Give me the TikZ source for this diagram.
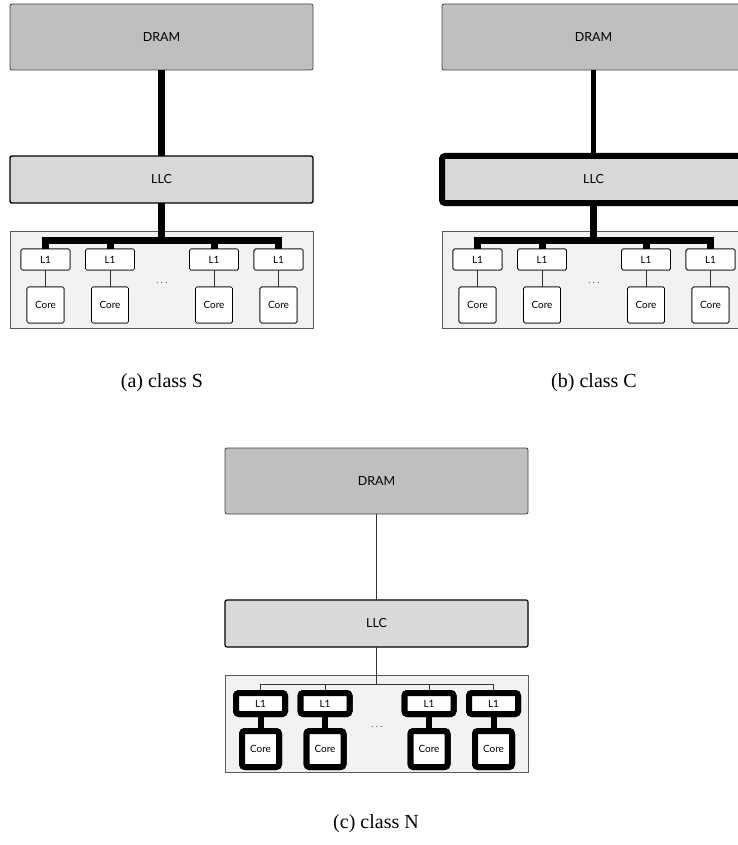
\documentclass[tikz,border=0pt]{standalone}
\usepackage{fontspec}
\setmainfont{Liberation Serif}
\newfontfamily\boxfont{Lato}
\newcommand\panelbody[1]{%
  \node[contbox] (#1cont) at (161.5,279.5) {};
  \node[drambox] (#1dram) at (161.5,37) {DRAM};
  \node[llcbox] (#1llc) at (161.5,179.5) {LLC};
  \coordinate (#1bus) at (161.5,240);
  \foreach \i/\x in {1/45.5,2/110,3/214,4/278.5} {
    \node[lonebox] (#1l\i) at (\x,259.5) {L1};
    \node[corebox] (#1c\i) at (\x,305) {Core};
    \draw[l1core] (#1l\i.south) -- (#1c\i.north);
  }
  \draw[linkA] (#1dram.south) -- (#1llc.north);
  \draw[linkB] (#1llc.south) -- (#1bus);
  \draw[busline] (#1l1.north) |- (#1l4.north |- #1bus) -- (#1l4.north);
  \draw[busline] (#1l2.north) -- (#1l2.north |- #1bus);
  \draw[busline] (#1l3.north) -- (#1l3.north |- #1bus);
  \foreach \i in {1,2,3,4} {
    \node[lonebox] at (#1l\i) {L1};
    \node[corebox] at (#1c\i) {Core};
  }
  \node[dotsnode] (#1dots) at (162,283) {.\hspace{2.5pt}.\hspace{2.5pt}.};
}
\begin{document}
\begin{tikzpicture}[x=1pt,y=-1pt,
  every node/.style={inner sep=0pt, outer sep=0pt},
  boxtext/.style={font=\boxfont\fontsize{12.5}{14}\selectfont},
  smalltext/.style={font=\boxfont\fontsize{10}{11}\selectfont},
  drambox/.style={boxtext, draw=black!75, fill=black!25, rounded corners=2pt,
    line width=0.8pt, minimum width=303pt, minimum height=66pt},
  llcbase/.style={boxtext, draw=black, fill=black!15, rounded corners=2pt,
    minimum width=303pt, minimum height=47pt},
  contbox/.style={draw=black!65, fill=black!5, line width=0.8pt,
    minimum width=303pt, minimum height=97pt},
  lonebase/.style={smalltext, draw=black, fill=white,
    minimum width=49pt, minimum height=21pt},
  corebase/.style={smalltext, draw=black, fill=white,
    minimum width=37pt, minimum height=36pt},
  thinlink/.style={draw=black!80, line width=0.8pt},
  dotsnode/.style={font=\boxfont\fontsize{9}{10}\selectfont, text=black!70},
  caption/.style={font=\fontsize{20}{22}\selectfont}
]
\path[use as bounding box] (0,0) rectangle (738,845);
\clip (0,0) rectangle (738,845);

% (a) class S
\begin{scope}[
  llcbox/.style={llcbase, line width=1.4pt},
  lonebox/.style={lonebase, line width=0.7pt, rounded corners=1.5pt},
  corebox/.style={corebase, line width=0.7pt, rounded corners=1.5pt},
  linkA/.style={draw=black, line width=7.5pt},
  linkB/.style={draw=black, line width=7.5pt},
  busline/.style={draw=black, line width=7pt},
  l1core/.style={thinlink}]
  \panelbody{a}
\end{scope}

% (b) class C
\begin{scope}[shift={(432,0)},
  llcbox/.style={llcbase, line width=6pt, rounded corners=3pt},
  lonebox/.style={lonebase, line width=0.7pt, rounded corners=1.5pt},
  corebox/.style={corebase, line width=0.7pt, rounded corners=1.5pt},
  linkA/.style={draw=black, line width=4.5pt},
  linkB/.style={draw=black, line width=7.5pt},
  busline/.style={draw=black, line width=7pt},
  l1core/.style={thinlink}]
  \panelbody{b}
\end{scope}

% (c) class N
\begin{scope}[shift={(215,444)},
  llcbox/.style={llcbase, line width=1.2pt},
  lonebox/.style={lonebase, line width=6pt, rounded corners=3pt},
  corebox/.style={corebase, line width=6pt, rounded corners=3pt},
  linkA/.style={thinlink},
  linkB/.style={thinlink},
  busline/.style={thinlink},
  l1core/.style={draw=black, line width=6pt}]
  \panelbody{c}
\end{scope}

\node[caption] (capa) at (162,383) {(a) class S};
\node[caption] (capb) at (594,383) {(b) class C};
\node[caption] (capc) at (376,824) {(c) class N};
\end{tikzpicture}
\end{document}
